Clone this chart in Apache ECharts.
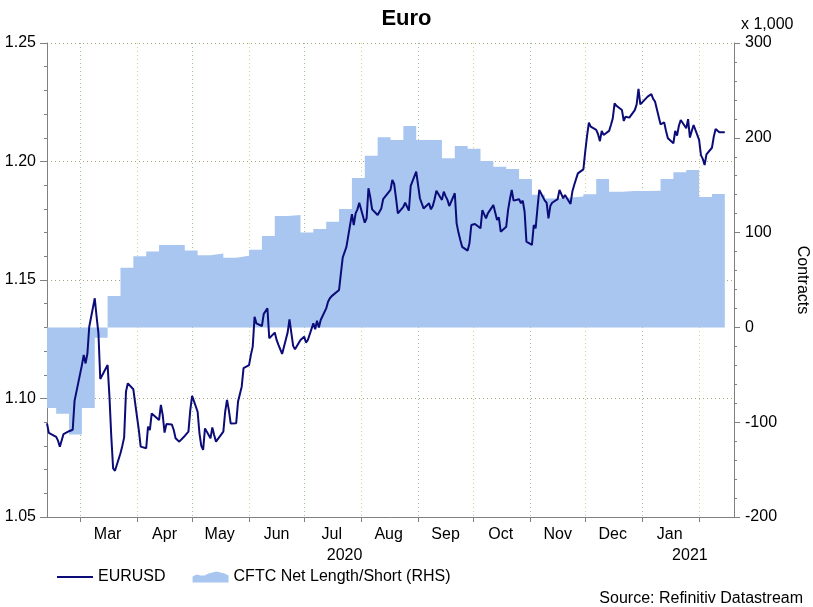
<!DOCTYPE html>
<html><head><meta charset="utf-8">
<script src="https://cdn.jsdelivr.net/npm/echarts@6/dist/echarts.min.js"></script>
<style>html,body{margin:0;padding:0;background:#fff}#c{width:813px;height:607px}</style>
</head><body><div id="c"></div>
<script>
// ---------- data ----------
const monthNames = ['Jan','Feb','Mar','Apr','May','Jun','Jul','Aug','Sep','Oct','Nov','Dec'];
const eurusdStart = '2020-02-12'; // first business day shown; values are one per weekday
const eurusd = [
  // Feb 2020
  1.0895,1.0855,1.0848,1.0838,1.0822,1.0797,1.0803,1.0850,1.0862,1.0866,1.0868,1.0990,1.0990,
  // Mar
  1.1141,1.1184,1.1148,1.1190,1.1303,1.1423,1.1345,1.1275,1.1082,1.1075,1.1141,1.1008,1.0839,1.0705,1.0695,1.0769,1.0800,1.0836,1.1029,1.1064,1.1039,1.0980,
  // Apr
  1.0923,1.0867,1.0797,1.0790,1.0881,1.0867,1.0937,1.0938,1.0909,1.0973,1.0930,1.0856,1.0892,1.0890,1.0867,1.0832,1.0830,1.0818,1.0842,1.0836,1.0860,1.0951,
  // May
  1.1011,1.0944,1.0853,1.0800,1.0783,1.0874,1.0832,1.0878,1.0846,1.0818,1.0820,1.0860,1.0944,1.0994,1.0951,1.0895,1.0896,1.0987,1.0980,1.1050,1.1128,
  // Jun
  1.1141,1.1184,1.1219,1.1345,1.1317,1.1306,1.1357,1.1357,1.1381,1.1254,1.1278,1.1247,1.1226,1.1225,1.1188,1.1278,1.1334,1.1278,1.1222,1.1208,1.1247,1.1245,
  // Jul
  1.1261,1.1236,1.1247,1.1317,1.1292,1.1328,1.1300,1.1331,1.1380,1.1408,1.1423,1.1432,1.1430,1.1458,1.1528,1.1595,1.1598,1.1640,1.1778,1.1732,1.1781,1.1798,1.1826,
  // Aug
  1.1742,1.1760,1.1887,1.1849,1.1798,1.1774,1.1771,1.1802,1.1841,1.1835,1.1880,1.1922,1.1905,1.1845,1.1781,1.1809,1.1826,1.1820,1.1793,1.1897,1.1957,
  // Sep
  1.1964,1.1845,1.1838,1.1802,1.1824,1.1798,1.1812,1.1841,1.1877,1.1838,1.1873,1.1854,1.1838,1.1812,1.1866,1.1739,1.1700,1.1669,1.1640,1.1624,1.1655,1.1732,
  // Oct
  1.1732,1.1736,1.1718,1.1795,1.1797,1.1760,1.1781,1.1816,1.1816,1.1753,1.1764,1.1704,1.1725,1.1795,1.1841,1.1880,1.1835,1.1841,1.1824,1.1835,1.1788,1.1662,
  // Nov
  1.1648,1.1732,1.1718,1.1802,1.1880,1.1835,1.1826,1.1760,1.1812,1.1826,1.1841,1.1880,1.1880,1.1845,1.1859,1.1821,1.1873,1.1901,1.1908,1.1950,1.1967,
  // Dec
  1.2041,1.2108,1.2164,1.2147,1.2133,1.2115,1.2086,1.2129,1.2112,1.2129,1.2154,1.2182,1.2245,1.2235,1.2217,1.2171,1.2189,1.2185,1.2185,1.2217,1.2241,1.2306,1.2241,
  // Jan 2021
  1.2241,1.2274,1.2281,1.2284,1.2264,1.2253,1.2157,1.2161,1.2165,1.2129,1.2098,1.2077,1.2129,1.2109,1.2151,1.2175,1.2140,1.2179,1.2101,1.2129,1.2154,
  // Feb 2021
  1.2091,1.2027,1.2011,1.1985,1.2030,1.2058,1.2105,1.2137,1.2133,1.2123,1.2123
];
const cftcDates = ['2020-02-12','2020-02-17','2020-02-24','2020-03-02','2020-03-09','2020-03-16','2020-03-23','2020-03-30',
  '2020-04-06','2020-04-13','2020-04-20','2020-04-27','2020-05-04','2020-05-11','2020-05-18','2020-05-25','2020-06-01',
  '2020-06-08','2020-06-15','2020-06-22','2020-06-29','2020-07-06','2020-07-13','2020-07-20','2020-07-27','2020-08-03',
  '2020-08-10','2020-08-17','2020-08-24','2020-08-31','2020-09-07','2020-09-14','2020-09-21','2020-09-28','2020-10-05',
  '2020-10-12','2020-10-19','2020-10-26','2020-11-02','2020-11-09','2020-11-16','2020-11-23','2020-11-30','2020-12-07',
  '2020-12-14','2020-12-21','2020-12-28','2021-01-04','2021-01-11','2021-01-18','2021-01-25','2021-02-01','2021-02-08','2021-02-15'];
const cftcValues = [-85,-91,-113,-85,-11,33,63,75,
  80,87,87,81,76,78,73.5,75.6,82,
  96.4,117.5,118.5,100,103.7,111.5,125,157.5,181,
  200.5,197.7,212.4,197.7,197.7,178.5,191.4,188.5,175.5,
  169.5,167,156.5,140,136,137,138,140.4,156.5,
  143.2,144,144,144.2,156.5,163.6,166,137.6,140.7,140.7];
const axisStart = '2020-02-12';
const axisEnd = '2021-02-20';
const monthTickDates = ['2020-03-01','2020-04-01','2020-05-01','2020-06-01','2020-07-01','2020-08-01','2020-09-01',
  '2020-10-01','2020-11-01','2020-12-01','2021-01-01','2021-02-01'];
const monthLabelDates = ['2020-03-16','2020-04-16','2020-05-16','2020-06-16','2020-07-16','2020-08-16','2020-09-16',
  '2020-10-16','2020-11-16','2020-12-16','2021-01-16'];
const yearLabelDates = ['2020-07-23','2021-01-27'];

// ---------- helpers ----------
function ts(s){ const p = s.split('-').map(Number); return new Date(p[0], p[1]-1, p[2]).getTime(); }
function weekdays(start, n){
  const out = []; const d = new Date(ts(start));
  while (out.length < n){
    const wd = d.getDay();
    if (wd !== 0 && wd !== 6) out.push(d.getTime());
    d.setDate(d.getDate()+1);
  }
  return out;
}
const eurDates = weekdays(eurusdStart, eurusd.length);
const lineData = eurusd.map((v,i)=>[eurDates[i], v]);
const areaData = cftcValues.map((v,i)=>[ts(cftcDates[i]), v]);

const FONT = 'Liberation Sans, Arial, sans-serif';
const AXIS_GREY = '#808080';
const FILL = '#a8c6f0';
const LINE = '#0c0c78';
const AREA_NAME = 'CFTC Net Length/Short (RHS)';
const VGRID = ['#d8d088','#96c896'];
const DAY = 864e5;

const chart = echarts.init(document.getElementById('c'), null, {renderer:'canvas'});
chart.setOption({
  animation:false,
  backgroundColor:'#ffffff',
  textStyle:{fontFamily:FONT},
  title:{text:'Euro', left:'center', top:3,
    textStyle:{fontSize:22, fontWeight:'bold', color:'#000', fontFamily:FONT}},
  legend:{left:52, top:564, itemWidth:36, itemHeight:12, itemGap:27,
    textStyle:{fontSize:16, color:'#000', fontFamily:FONT},
    data:[{name:'EURUSD', icon:'path://M0,0 L0,0 M0,5 L36,5 L36,7 L0,7 Z M36,12 L36,12'},
          {name:AREA_NAME, icon:'path://M0,6 L4,4 L8,5 L12,5 L16,3 L20,2 L24,1 L28,2 L32,3 L36,5 L36,12 L0,12 Z'}]},
  grid:{left:47, right:79, top:43, bottom:90, containLabel:false, outerBoundsMode:'none'},
  xAxis:[{
    type:'value', min:ts(axisStart), max:ts(axisEnd),
    axisLine:{show:true, onZero:false, lineStyle:{color:AXIS_GREY, width:1}},
    axisTick:{show:true, customValues:monthTickDates.map(ts), length:5, lineStyle:{color:AXIS_GREY}},
    axisLabel:{customValues:monthLabelDates.map(ts), formatter:(v)=>monthNames[new Date(v).getMonth()],
      fontSize:16, color:'#000', margin:10, fontFamily:FONT},
    splitLine:{show:false}
  },{
    type:'value', min:ts(axisStart), max:ts(axisEnd), position:'bottom',
    axisLine:{show:false, onZero:false}, axisTick:{show:false}, splitLine:{show:false},
    axisLabel:{customValues:yearLabelDates.map(ts), formatter:(v)=>String(new Date(v).getFullYear()),
      fontSize:16, color:'#000', margin:31, fontFamily:FONT}
  },{
    // month-boundary grid lines (behind the series)
    type:'time', min:ts(axisStart), max:ts(axisEnd), position:'bottom',
    minInterval:28*DAY, maxInterval:31*DAY,
    axisLine:{show:false, onZero:false}, axisTick:{show:false}, axisLabel:{show:false},
    splitLine:{show:true, lineStyle:{type:[1,3], width:1, color:VGRID}}
  }],
  yAxis:[{
    type:'value', min:1.05, max:1.25, interval:0.05, position:'left',
    axisLine:{show:true, lineStyle:{color:AXIS_GREY}},
    axisTick:{show:true, length:7, lineStyle:{color:AXIS_GREY}},
    minorTick:{show:true, splitNumber:5, length:3, lineStyle:{color:AXIS_GREY}},
    axisLabel:{formatter:(v)=>v.toFixed(2), fontSize:16, color:'#000', margin:11, fontFamily:FONT},
    splitLine:{show:true, lineStyle:{type:[1,3], width:1, color:'#a8a47c'}}
  },{
    type:'value', min:-200, max:300, interval:100, position:'right',
    axisLine:{show:true, lineStyle:{color:AXIS_GREY}},
    axisTick:{show:true, length:6, lineStyle:{color:AXIS_GREY}},
    minorTick:{show:true, splitNumber:5, length:3, lineStyle:{color:AXIS_GREY}},
    axisLabel:{fontSize:16, color:'#000', margin:11, fontFamily:FONT},
    splitLine:{show:false}
  }],
  graphic:[
    {type:'text', left:741, top:17, style:{text:'x 1,000', font:'16px '+FONT, fill:'#000'}},
    {type:'text', x:802, y:280, rotation:-Math.PI/2,
      style:{text:'Contracts', font:'16px '+FONT, fill:'#000', align:'center', verticalAlign:'middle'}},
    {type:'text', right:10, top:591, style:{text:'Source: Refinitiv Datastream', font:'16px '+FONT, fill:'#000'}}
  ],
  series:[{
    name:AREA_NAME, type:'line', xAxisIndex:0, yAxisIndex:1, step:'end', data:areaData,
    symbol:'none', showSymbol:false, lineStyle:{width:0, color:FILL}, itemStyle:{color:FILL},
    areaStyle:{color:FILL, opacity:1}, z:1
  },{
    name:'EURUSD', type:'line', xAxisIndex:0, yAxisIndex:0, data:lineData,
    symbol:'none', showSymbol:false, lineStyle:{width:2, color:LINE}, itemStyle:{color:LINE}, z:3
  }]
});
</script></body></html>
